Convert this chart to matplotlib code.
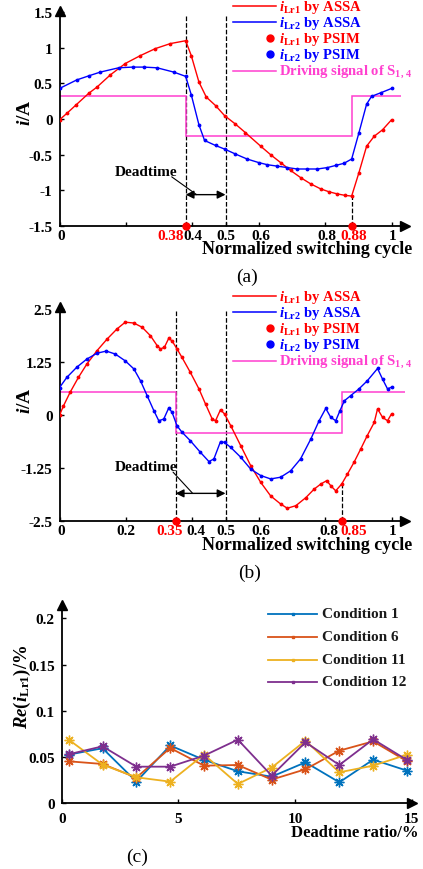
import matplotlib
matplotlib.use("Agg")
import matplotlib.pyplot as plt
from matplotlib.lines import Line2D

plt.rcParams['font.family'] = ['Liberation Serif', 'DejaVu Serif']
plt.rcParams['font.weight'] = 'bold'
plt.rcParams['mathtext.fontset'] = 'custom'
plt.rcParams['mathtext.it'] = 'Liberation Serif:bold:italic'
plt.rcParams['mathtext.rm'] = 'Liberation Serif:bold'
plt.rcParams['mathtext.bf'] = 'Liberation Serif:bold'

# ---------------- data (a) ----------------
a_t1 = [0, 0.022, 0.05, 0.0875, 0.113, 0.153, 0.198, 0.243, 0.289, 0.334, 0.38, 0.397, 0.42, 0.442, 0.47,
        0.497, 0.53, 0.56, 0.606, 0.636, 0.666, 0.696, 0.726, 0.757, 0.787, 0.812, 0.837, 0.86, 0.88,
        0.902, 0.925, 0.948, 0.973, 1.0]
a_i1 = [-0.01, 0.08, 0.2, 0.36, 0.45, 0.62, 0.78, 0.89, 0.99, 1.06, 1.10, 0.89, 0.52, 0.31, 0.19,
        0.05, -0.07, -0.19, -0.38, -0.50, -0.61, -0.72, -0.82, -0.91, -0.98, -1.02, -1.05, -1.07, -1.08,
        -0.75, -0.38, -0.24, -0.15, -0.01]
a_t2 = [0, 0.052, 0.09, 0.123, 0.178, 0.22, 0.254, 0.294, 0.344, 0.38, 0.397, 0.42, 0.437, 0.47, 0.497,
        0.53, 0.565, 0.6, 0.626, 0.656, 0.686, 0.716, 0.746, 0.777, 0.807, 0.832, 0.857, 0.88, 0.902,
        0.925, 0.94, 0.968, 1.0]
a_i2 = [0.43, 0.55, 0.61, 0.66, 0.72, 0.73, 0.73, 0.72, 0.66, 0.60, 0.34, -0.08, -0.30, -0.37, -0.42,
        -0.49, -0.56, -0.61, -0.64, -0.66, -0.68, -0.70, -0.70, -0.70, -0.68, -0.65, -0.62, -0.56, -0.19,
        0.21, 0.32, 0.37, 0.43]
a_drive_edges = [0, 0.38, 0.88, 1.03]
a_drive_levels = [0.32, -0.24, 0.32]
a_switch = [0.38, 0.88]
a_xticks = [0, 0.2, 0.38, 0.4, 0.5, 0.6, 0.8, 0.88, 1]
a_xlabels = ['0', '', '0.38', '0.4', '0.5', '0.6', '0.8', '0.88', '1']
a_yticks = [-1.5, -1, -0.5, 0, 0.5, 1, 1.5]
a_ylabels = ['-1.5', '-1', '-0.5', '0', '0.5', '1', '1.5']

# ---------------- data (b) ----------------
b_t1 = [0, 0.012, 0.032, 0.057, 0.082, 0.113, 0.143, 0.173, 0.198, 0.224, 0.249, 0.274, 0.294, 0.304,
        0.316, 0.329, 0.339, 0.354, 0.369, 0.394, 0.42, 0.44, 0.46, 0.47, 0.485, 0.497, 0.516, 0.546,
        0.576, 0.606, 0.636, 0.666, 0.686, 0.712, 0.742, 0.767, 0.787, 0.805, 0.817, 0.832, 0.85, 0.867,
        0.887, 0.907, 0.927, 0.948, 0.958, 0.973, 0.988, 1.0]
b_i1 = [0, 0.22, 0.54, 0.89, 1.2, 1.52, 1.79, 2.03, 2.19, 2.17, 2.07, 1.87, 1.64, 1.56,
        1.6, 1.81, 1.75, 1.56, 1.36, 1.01, 0.62, 0.26, -0.09, -0.13, 0.13, 0.03, -0.25, -0.72,
        -1.19, -1.58, -1.9, -2.09, -2.19, -2.13, -1.94, -1.74, -1.62, -1.54, -1.66, -1.78, -1.62, -1.39,
        -1.11, -0.8, -0.48, -0.17, 0.15, -0.05, -0.13, 0.03]
b_t2 = [0, 0.022, 0.052, 0.082, 0.113, 0.141, 0.168, 0.198, 0.224, 0.244, 0.264, 0.284, 0.299, 0.314,
        0.329, 0.339, 0.354, 0.369, 0.394, 0.424, 0.45, 0.465, 0.485, 0.497, 0.516, 0.546, 0.576, 0.606,
        0.636, 0.666, 0.696, 0.726, 0.757, 0.782, 0.802, 0.817, 0.832, 0.845, 0.858, 0.877, 0.902, 0.927,
        0.958, 0.973, 0.988, 1.0]
b_i2 = [0.65, 0.89, 1.13, 1.32, 1.46, 1.51, 1.44, 1.28, 1.09, 0.81, 0.46, 0.11, -0.13, -0.09,
        0.17, 0.07, -0.25, -0.4, -0.6, -0.87, -1.09, -1.03, -0.62, -0.64, -0.76, -0.99, -1.27, -1.42,
        -1.5, -1.46, -1.31, -1.03, -0.56, -0.13, 0.16, -0.05, -0.13, 0.11, 0.34, 0.46, 0.62, 0.81,
        1.1, 0.85, 0.62, 0.66]
b_drive_edges = [0, 0.35, 0.85, 1.04]
b_drive_levels = [0.55, -0.42, 0.55]
b_switch = [0.35, 0.85]
b_xticks = [0, 0.2, 0.35, 0.4, 0.5, 0.6, 0.8, 0.85, 1]
b_xlabels = ['0', '0.2', '0.35', '0.4', '0.5', '0.6', '0.8', '0.85', '1']
b_yticks = [-2.5, -1.25, 0, 1.25, 2.5]
b_ylabels = ['-2.5', '-1.25', '0', '1.25', '2.5']

# ---------------- data (c) ----------------
c_x = [0.3, 1.75, 3.2, 4.65, 6.1, 7.55, 9.0, 10.45, 11.9, 13.35, 14.8]
c_cond1 = [0.0526, 0.0595, 0.0234, 0.0625, 0.047, 0.0346, 0.0288, 0.0443, 0.0227, 0.0472, 0.0353]
c_cond6 = [0.0454, 0.0425, 0.0277, 0.0598, 0.0407, 0.0414, 0.0256, 0.0368, 0.0569, 0.067, 0.0454]
c_cond11 = [0.0688, 0.0418, 0.0281, 0.0234, 0.0526, 0.0209, 0.0386, 0.0677, 0.0335, 0.0407, 0.0526]
c_cond12 = [0.053, 0.0616, 0.0396, 0.0396, 0.0515, 0.0688, 0.0299, 0.066, 0.0414, 0.0692, 0.0468]
c_names = ['Condition 1', 'Condition 6', 'Condition 11', 'Condition 12']
c_colors = ['#0072BD', '#D95319', '#EDB120', '#7E2F8E']

RED = '#FF0000'
BLUE = '#0000FF'
PINK = '#FF3FCF'

W, H = 423, 870
fig = plt.figure(figsize=(W / 100, H / 100), dpi=100)


def px_axes(left, right, bottom, top):
    return fig.add_axes([left / W, 1 - bottom / H, (right - left) / W, (bottom - top) / H])


def fx(x):
    return x / W


def fy(y):
    return 1 - y / H


def style_axes(ax, ms=7):
    for s in ['top', 'right']:
        ax.spines[s].set_visible(False)
    for s in ['left', 'bottom']:
        ax.spines[s].set_linewidth(1.3)
    ax.tick_params(direction='in', length=3, width=1, labelsize=11)
    ax.tick_params(axis='x', pad=2)
    ax.tick_params(axis='y', pad=5)
    ax.plot(1, 0, '>', color='k', ms=ms, transform=ax.transAxes, clip_on=False, zorder=10)
    ax.plot(0, 1, '^', color='k', ms=ms, transform=ax.transAxes, clip_on=False, zorder=10)
    for lab in ax.get_xticklabels() + ax.get_yticklabels():
        lab.set_fontweight('bold')


def current_panel(ax, t1, i1, t2, i2, edges, levels, switch, ylo, ytop,
                  xticks, xlabels, xoffs, yticks, ylabels, arrow_y, dt_text, dt_line):
    ax.set_xlim(0, 1.04)
    ax.set_ylim(ylo, ytop)
    ax.stairs(levels, edges, baseline=None, color=PINK, lw=1.1, zorder=2)
    ax.plot(t1, i1, '-', color=RED, lw=1.0, zorder=3)
    ax.plot(t2, i2, '-', color=BLUE, lw=1.0, zorder=3)
    ax.plot(t1, i1, '.', color=RED, ms=3.5, zorder=4)
    ax.plot(t2, i2, '.', color=BLUE, ms=3.5, zorder=4)
    # dashed lines
    ax.plot([switch[0], switch[0]], [ylo, ytop * 0.975], '--', color='k', lw=0.9, zorder=1)
    ax.plot([0.5, 0.5], [ylo, ytop * 0.975], '--', color='k', lw=0.9, zorder=1)
    yl = i1[list(t1).index(switch[1])] if switch[1] in t1 else i1[-1]
    ax.plot([switch[1], switch[1]], [ylo, yl], '--', color='k', lw=0.9, zorder=1)
    ax.plot(switch, [ylo, ylo], 'o', color=RED, ms=5, clip_on=False, zorder=11)
    # deadtime arrow
    ax.annotate('', xy=(0.5, arrow_y), xytext=(switch[0], arrow_y),
                arrowprops=dict(arrowstyle='<|-|>', color='k', lw=1.0, mutation_scale=12,
                                shrinkA=0, shrinkB=0))
    ax.annotate('', xy=dt_line[1], xytext=dt_line[0],
                arrowprops=dict(arrowstyle='-', color='k', lw=0.8, shrinkA=0, shrinkB=0))
    ax.text(dt_text[0], dt_text[1], 'Deadtime', ha='center', va='center', fontsize=11,
            fontweight='bold')
    ax.set_xticks(xticks)
    ax.set_xticklabels([''] * len(xticks))
    for v, lab, dx in zip(xticks, xlabels, xoffs):
        col = RED if v in switch else 'k'
        ax.annotate(lab, xy=(v, 0), xycoords=('data', 'axes fraction'),
                    xytext=(dx * 0.72, -2.0), textcoords='offset points',
                    ha='center', va='top', fontsize=11, fontweight='bold', color=col,
                    annotation_clip=False)
    ax.set_yticks(yticks)
    ax.set_yticklabels(ylabels)
    style_axes(ax)


def legend_block(y0):
    rows = [y0 + 7, y0 + 23, y0 + 39, y0 + 55, y0 + 71.5]
    entries = [('line', RED, r'$i_{\mathrm{Lr1}}$ by ASSA'),
               ('line', BLUE, r'$i_{\mathrm{Lr2}}$ by ASSA'),
               ('dot', RED, r'$i_{\mathrm{Lr1}}$ by PSIM'),
               ('dot', BLUE, r'$i_{\mathrm{Lr2}}$ by PSIM'),
               ('line', PINK, r'Driving signal of S$_{\mathrm{1,\,4}}$')]
    for (kind, col, txt), y in zip(entries, rows):
        if kind == 'line':
            fig.add_artist(Line2D([fx(233), fx(276)], [fy(y), fy(y)], color=col, lw=1.1,
                                  transform=fig.transFigure))
        else:
            fig.add_artist(Line2D([fx(270)], [fy(y)], marker='o', color=col, ms=5, lw=0,
                                  transform=fig.transFigure))
        fig.text(fx(279), fy(y), txt, color=col, fontsize=10.5, fontweight='bold',
                 ha='left', va='center')


# ---------------- panel (a) ----------------
axa = px_axes(59.5, 59.5 + 1.04 * 332, 227, 13.3 - 1.5)
current_panel(axa, a_t1, a_i1, a_t2, a_i2, a_drive_edges, a_drive_levels, a_switch, -1.5, 1.52,
              a_xticks, a_xlabels, [2, 0, -15, 1, 0, 2, 2, 2, 1], a_yticks, a_ylabels,
              -1.06, (0.26, -0.73), ((0.338, -0.81), (0.413, -1.06)))
axa.set_ylim(-1.5, 1.52)
legend_block(0)
fig.text(fx(412), fy(254), 'Normalized switching cycle', ha='right', va='baseline', fontsize=13,
         fontweight='bold')
fig.text(fx(25), fy(113), r'$i$/A', rotation=90, ha='center', va='center', fontsize=14,
         fontweight='bold')
fig.text(fx(247), fy(277), '(a)', ha='center', va='center', fontsize=14, fontweight='normal')

# ---------------- panel (b) ----------------
axb = px_axes(59.5, 59.5 + 1.04 * 332, 522.4, 310 - 2.1)
current_panel(axb, b_t1, b_i1, b_t2, b_i2, b_drive_edges, b_drive_levels, b_switch, -2.5, 2.55,
              b_xticks, b_xlabels, [2, 0, -6, 4, 0, 2, 4, 12, 1], b_yticks, b_ylabels,
              -1.84, (0.26, -1.2), ((0.342, -1.34), (0.40, -1.83)))
legend_block(290)
fig.text(fx(412), fy(549.5), 'Normalized switching cycle', ha='right', va='baseline', fontsize=13,
         fontweight='bold')
fig.text(fx(25), fy(401), r'$i$/A', rotation=90, ha='center', va='center', fontsize=14,
         fontweight='bold')
fig.text(fx(250), fy(573), '(b)', ha='center', va='center', fontsize=14, fontweight='normal')

# ---------------- panel (c) ----------------
axc = px_axes(61.7, 61.7 + 15 * 23.33, 804.3, 619.3 - 0.0144 * 925)
for ys, col in zip([c_cond1, c_cond6, c_cond11, c_cond12], c_colors):
    axc.plot(c_x, ys, '-', color=col, lw=1.3, marker=(8, 2, 0), ms=7, mew=1.0, zorder=3)
axc.set_xlim(0, 15)
axc.set_ylim(0, 0.2144)
axc.set_xticks([0, 5, 10, 15])
axc.set_xticklabels(['0', '5', '10', '15'])
axc.set_yticks([0, 0.05, 0.1, 0.15, 0.2])
axc.set_yticklabels(['0', '0.05', '0.1', '0.15', '0.2'])
style_axes(axc)
axc.tick_params(axis='x', pad=6)
for name, col, y in zip(c_names, c_colors, [615, 638, 661, 683]):
    fig.add_artist(Line2D([fx(268), fx(317)], [fy(y), fy(y)], color=col, lw=1.3,
                          transform=fig.transFigure))
    fig.add_artist(Line2D([fx(292.5)], [fy(y)], marker='s', color=col, ms=2, lw=0,
                          transform=fig.transFigure))
    fig.text(fx(322), fy(y), name, color='#1a1a1a', fontsize=11, fontweight='bold',
             ha='left', va='center')
fig.text(fx(418), fy(833), 'Deadtime ratio/%', ha='right', va='center', fontsize=12,
         fontweight='bold')
fig.text(fx(22), fy(687), r'$Re$($i_{\mathrm{Lr1}}$)/%', rotation=90, ha='center', va='center',
         fontsize=13.5, fontweight='bold')
fig.text(fx(137), fy(857), '(c)', ha='center', va='center', fontsize=14, fontweight='normal')

fig.savefig('out.png', dpi=100)
